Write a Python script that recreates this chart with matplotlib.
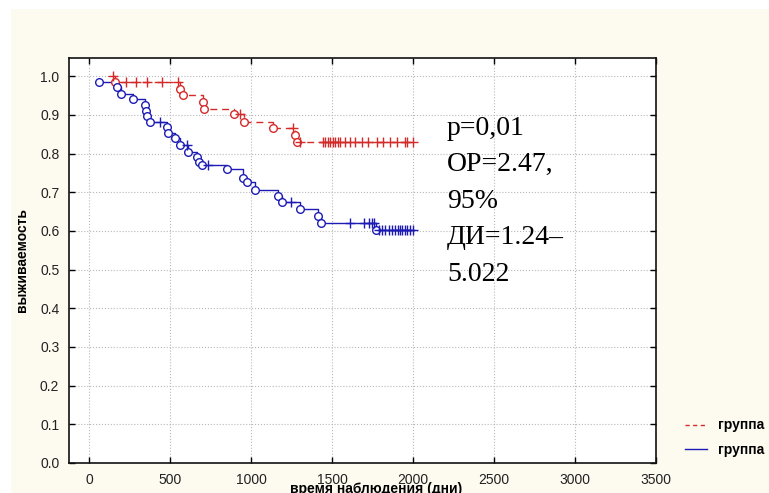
import numpy as np
import matplotlib
matplotlib.use('Agg')
import matplotlib.pyplot as plt
from matplotlib.patches import Rectangle
from matplotlib.lines import Line2D

plt.rcParams['font.family'] = ['Liberation Sans', 'DejaVu Sans']

# ---- data ----
red_start = (150, 1.0)
red_event_t = [160, 560, 580, 705, 712, 895, 955, 1135, 1270, 1285]
red_event_s = [0.984, 0.966, 0.951, 0.934, 0.916, 0.901, 0.882, 0.865, 0.848, 0.831]
red_cens_t = [150, 230, 290, 360, 450, 549, 932, 1262, 1302, 1445, 1460, 1475, 1490,
              1505, 1520, 1535, 1550, 1580, 1610, 1641, 1684, 1721, 1777, 1814, 1857,
              1900, 1950, 1962, 2000]

blue_event_t = [62, 175, 195, 272, 345, 352, 360, 376, 481, 487, 531, 561, 611, 666,
                679, 697, 851, 950, 975, 1024, 1166, 1191, 1302, 1413, 1431, 1770]
blue_event_s = [0.985, 0.971, 0.955, 0.942, 0.925, 0.911, 0.897, 0.882, 0.869, 0.854,
                0.839, 0.823, 0.804, 0.790, 0.777, 0.771, 0.759, 0.738, 0.727, 0.707,
                0.690, 0.675, 0.656, 0.638, 0.621, 0.603]
blue_cens_t = [438, 605, 734, 1246, 1610, 1700, 1730, 1745, 1760, 1790, 1810, 1830,
               1850, 1870, 1890, 1905, 1920, 1935, 1950, 1965, 1980, 2000]

x_ticks = [0, 500, 1000, 1500, 2000, 2500, 3000, 3500]
y_ticks = [0.0, 0.1, 0.2, 0.3, 0.4, 0.5, 0.6, 0.7, 0.8, 0.9, 1.0]
legend_labels = ['группа', 'группа']
annot = 'p=0,01\nОР=2.47,\n95%\nДИ=1.24–\n5.022'
xlabel = 'время наблюдения (дни)'
ylabel = 'выживаемость'

RED = '#d42a2a'
BLUE = '#1c1cb4'

fig = plt.figure(figsize=(7.69, 4.93), dpi=100)
fig.patch.set_facecolor('white')
fig.add_artist(Rectangle((11/769, 0), 1, 1 - 9/493, transform=fig.transFigure,
                         facecolor='#FDFAF0', edgecolor='none', zorder=-10))
ax = fig.add_axes([69/769, 1 - 463/493, (656 - 69)/769, (463 - 58)/493])
ax.set_facecolor('white')


def draw_curve(start, ev_t, ev_s, cens_t, color, ls):
    xs = ([start[0]] if start is not None else []) + list(ev_t)
    ys = ([start[1]] if start is not None else []) + list(ev_s)
    end_t = max(cens_t + list(ev_t))
    xs = np.array(xs + [end_t], dtype=float)
    ys = np.array(ys + [ys[-1]], dtype=float)
    ax.step(xs, ys, where='post', color=color, ls=ls, lw=1.0, zorder=3)
    ax.plot(ev_t, ev_s, ls='none', marker='o', mfc='white', mec=color, ms=5.5,
            mew=1.0, zorder=4)
    idx = np.searchsorted(xs, np.array(cens_t, dtype=float), side='right') - 1
    idx = np.clip(idx, 0, len(ys) - 1)
    ax.plot(cens_t, ys[idx], ls='none', marker='+', color=color, ms=7, mew=1.0,
            zorder=5)


draw_curve(red_start, red_event_t, red_event_s, red_cens_t, RED, (0, (5, 3.5)))
draw_curve(None, blue_event_t, blue_event_s, blue_cens_t, BLUE, '-')

ax.set_xlim(-123, 3500)
ax.set_ylim(0, 1.047)
ax.set_xticks(x_ticks)
ax.set_yticks(y_ticks)
ax.set_yticklabels([f'{v:.1f}' for v in y_ticks])
ax.grid(True, ls=':', color='#b8b8b8', lw=0.8)
ax.set_axisbelow(True)
ax.tick_params(direction='in', top=True, right=True, length=4, width=1,
               labelsize=10, pad=7, labelcolor='#222222')
for s in ax.spines.values():
    s.set_linewidth(1.2)
    s.set_color('#111111')

ax.set_ylabel(ylabel, fontweight='bold', fontsize=10, labelpad=8)
fig.text(376/769, 1 - 482/493, xlabel, ha='center', va='top', fontsize=10,
         fontweight='bold')

fig.text(447/769, 1 - 116/493, annot, family=['Liberation Serif', 'DejaVu Serif'],
         fontsize=20, va='top', ha='left', linespacing=1.6)

handles = [Line2D([], [], color=RED, ls=(0, (3, 2.5)), lw=1.0),
           Line2D([], [], color=BLUE, ls='-', lw=1.0)]
fig.legend(handles=handles, labels=legend_labels, loc='upper left',
           bbox_to_anchor=(672/769, 1 - 406/493), frameon=False,
           prop={'weight': 'bold', 'size': 10}, handlelength=1.6,
           labelspacing=0.75, handletextpad=0.8)

fig.savefig('out.png', dpi=100, facecolor=fig.get_facecolor())
